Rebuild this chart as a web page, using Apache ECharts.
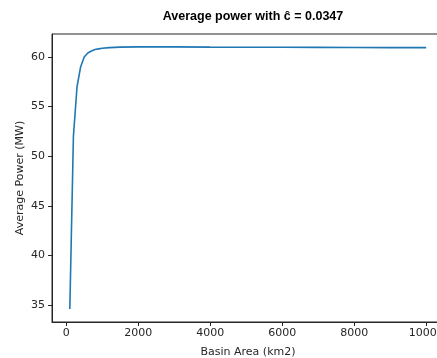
<!DOCTYPE html>
<html>
<head>
<meta charset="utf-8">
<script src="https://cdn.jsdelivr.net/npm/echarts@6/dist/echarts.min.js"></script>
<style>
  html, body { margin: 0; padding: 0; background: #fff; }
  #chart { width: 437px; height: 358px; }
</style>
</head>
<body>
<div id="chart"></div>
<script>
// basin area (km2) and average power (MW)
const basinArea = [100, 200, 300, 400, 500, 600, 700, 800, 900, 1000, 1200, 1500, 2000, 3000, 4000, 5000, 6000, 7000, 8000, 9000, 10000];
const avgPower = [34.6, 52.0, 57.0, 59.0, 60.0, 60.4, 60.6, 60.75, 60.82, 60.88, 60.95, 61.0, 61.02, 61.02, 61.0, 60.99, 60.98, 60.97, 60.96, 60.95, 60.95];
const xTicks = [0, 2000, 4000, 6000, 8000, 10000];
const yTicks = [35, 40, 45, 50, 55, 60];

const font = 'DejaVu Sans';
const ink = '#262626';

const chart = echarts.init(document.getElementById('chart'));

chart.setOption({
    animation: false,
    title: {
        text: 'Average power with \u0109 = 0.0347',
        left: 248,
        top: 5,
        textAlign: 'center',
        textStyle: { fontFamily: 'Liberation Sans', fontWeight: 'bold', fontSize: 12.5, color: '#000' }
    },
    grid: {
        left: 52, top: 34, right: -7, bottom: 36,
        outerBoundsMode: 'none',
        containLabel: false,
        show: true, borderColor: ink, borderWidth: 1
    },
    xAxis: {
        type: 'value',
        min: -395,
        max: 10495,
        name: 'Basin Area (km2)',
        nameLocation: 'middle',
        nameGap: 25,
        nameMoveOverlap: false,
        nameTextStyle: { fontFamily: font, fontSize: 11, color: ink },
        axisLine: { show: true, onZero: false, lineStyle: { color: ink, width: 1 } },
        axisTick: { show: true, length: 4, customValues: xTicks, lineStyle: { color: ink } },
        axisLabel: {
            customValues: xTicks, fontFamily: font, fontSize: 11, color: ink, margin: 6,
            formatter: v => String(v)
        },
        splitLine: { show: false }
    },
    yAxis: {
        type: 'value',
        min: 33.28,
        max: 62.32,
        name: 'Average Power (MW)',
        nameLocation: 'middle',
        nameGap: 26,
        nameMoveOverlap: false,
        nameRotate: 90,
        nameTextStyle: { fontFamily: font, fontSize: 11, color: ink },
        axisLine: { show: true, onZero: false, lineStyle: { color: ink, width: 1 } },
        axisTick: { show: true, length: 4, customValues: yTicks, lineStyle: { color: ink } },
        axisLabel: { customValues: yTicks, fontFamily: font, fontSize: 11, color: ink, margin: 7 },
        splitLine: { show: false }
    },
    series: [{
        type: 'line',
        data: basinArea.map((x, i) => [x, avgPower[i]]),
        showSymbol: false,
        lineStyle: { color: '#1f77b4', width: 1.6 }
    }]
});
</script>
</body>
</html>
